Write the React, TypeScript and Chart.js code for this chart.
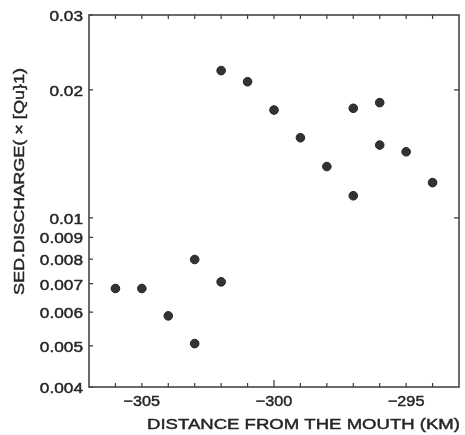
import React, { useEffect, useRef } from "react";
import { Chart, registerables } from "chart.js";

Chart.register(...registerables);

const xValues = [-306, -305, -304, -303, -303, -302, -302, -301, -300, -299, -298, -297, -297, -296, -296, -295, -294];
const yValues = [0.00682, 0.00682, 0.00588, 0.00798, 0.00506, 0.00707, 0.0222, 0.0209, 0.01793, 0.01543, 0.0132, 0.0181, 0.01127, 0.01866, 0.01483, 0.0143, 0.0121];

const yTickValues = [0.004, 0.005, 0.006, 0.007, 0.008, 0.009, 0.01, 0.02, 0.03];
const yTickLabels = ["0.004", "0.005", "0.006", "0.007", "0.008", "0.009", "0.01", "0.02", "0.03"];
const xTickValues = [-305, -300, -295];
const xTickLabels = ["\u2212305", "\u2212300", "\u2212295"];
const xMinorTicks = [-306, -305, -304, -303, -302, -301, -300, -299, -298, -297, -296, -295, -294];
const rightTickValues = [0.01, 0.02];

const xTitle = "DISTANCE FROM THE MOUTH (KM)";
const yTitle = "SED.DISCHARGE( \u00d7 [Qu}1)";

const FONT = "'Liberation Sans', Arial, Helvetica, sans-serif";
const TEXT = "#262626";
const AXIS = "#3a3a3a";

function drawText(
  ctx: CanvasRenderingContext2D,
  text: string,
  x: number,
  cy: number,
  fs: number,
  sx: number,
  align: CanvasTextAlign,
  rotate: boolean
) {
  ctx.save();
  ctx.translate(x, cy);
  if (rotate) ctx.rotate(-Math.PI / 2);
  ctx.scale(sx, 1);
  ctx.font = `${fs}px ${FONT}`;
  ctx.textAlign = align;
  ctx.textBaseline = "alphabetic";
  ctx.fillStyle = TEXT;
  ctx.strokeStyle = TEXT;
  ctx.lineWidth = 0.45;
  const by = (fs * 0.716) / 2;
  ctx.fillText(text, 0, by);
  ctx.strokeText(text, 0, by);
  ctx.restore();
}

function drawFitted(ctx: CanvasRenderingContext2D, text: string, cx: number, cy: number, width: number, fs: number, rotate: boolean) {
  ctx.save();
  ctx.font = `${fs}px ${FONT}`;
  const w = ctx.measureText(text).width;
  ctx.restore();
  drawText(ctx, text, cx, cy, fs, width / w, "center", rotate);
}

const framePlugin = {
  id: "frame",
  afterDatasetsDraw(chart: any) {
    const ctx = chart.ctx as CanvasRenderingContext2D;
    const { left, right, top, bottom } = chart.chartArea;
    const xs = chart.scales.x;
    const ys = chart.scales.y;
    ctx.save();
    ctx.strokeStyle = AXIS;
    ctx.lineWidth = 1.5;
    ctx.strokeRect(left, top, right - left, bottom - top);
    ctx.lineWidth = 1.2;
    ctx.beginPath();
    for (const v of xMinorTicks) {
      const px = xs.getPixelForValue(v);
      const len = v === -300 ? 7 : 4;
      ctx.moveTo(px, bottom);
      ctx.lineTo(px, bottom - len);
      ctx.moveTo(px, top);
      ctx.lineTo(px, top + 4);
    }
    for (const v of yTickValues) {
      const py = ys.getPixelForValue(v);
      ctx.moveTo(left, py);
      ctx.lineTo(left + 4, py);
    }
    for (const v of rightTickValues) {
      const py = ys.getPixelForValue(v);
      ctx.moveTo(right, py);
      ctx.lineTo(right - 5, py);
    }
    ctx.stroke();
    ctx.restore();

    // tick labels
    yTickValues.forEach((v, i) => {
      drawText(ctx, yTickLabels[i], left - 6, ys.getPixelForValue(v) + 0.5, 15, 1.15, "right", false);
    });
    xTickValues.forEach((v, i) => {
      drawText(ctx, xTickLabels[i], xs.getPixelForValue(v), 401, 15, 1.08, "center", false);
    });

    drawFitted(ctx, xTitle, 303.5, 424, 313, 15, false);
    drawFitted(ctx, yTitle, 18.5, 181.5, 227, 15, true);
  },
};

export default function App() {
  const ref = useRef<HTMLCanvasElement | null>(null);
  useEffect(() => {
    if (!ref.current) return;
    const chart = new Chart(ref.current, {
      type: "scatter",
      data: {
        datasets: [
          {
            data: xValues.map((x, i) => ({ x, y: yValues[i] })),
            backgroundColor: "#333333",
            borderColor: "#222222",
            borderWidth: 1,
            pointRadius: 4.3,
          },
        ],
      },
      options: {
        animation: false,
        responsive: false,
        maintainAspectRatio: false,
        layout: { padding: { left: 0, top: 15, right: 6, bottom: 0 } },
        plugins: { legend: { display: false }, tooltip: { enabled: false } },
        scales: {
          x: {
            type: "linear",
            min: -307,
            max: -293,
            grid: { display: false, drawTicks: false },
            border: { display: false },
            afterBuildTicks: (s: any) => {
              s.ticks = xTickValues.map((v) => ({ value: v }));
            },
            afterFit: (s: any) => {
              s.height = 48;
            },
            ticks: { display: false },
          },
          y: {
            type: "logarithmic",
            min: 0.004,
            max: 0.03,
            grid: { display: false, drawTicks: false },
            border: { display: false },
            afterBuildTicks: (s: any) => {
              s.ticks = yTickValues.map((v) => ({ value: v }));
            },
            afterFit: (s: any) => {
              s.width = 89;
            },
            ticks: { display: false },
          },
        },
      },
      plugins: [framePlugin],
    });
    return () => chart.destroy();
  }, []);
  return (
    <div style={{ position: "fixed", left: 0, top: 0, width: 465, height: 435, background: "#fff" }}>
      <canvas ref={ref} width={465} height={435} style={{ width: 465, height: 435, display: "block" }} />
    </div>
  );
}
